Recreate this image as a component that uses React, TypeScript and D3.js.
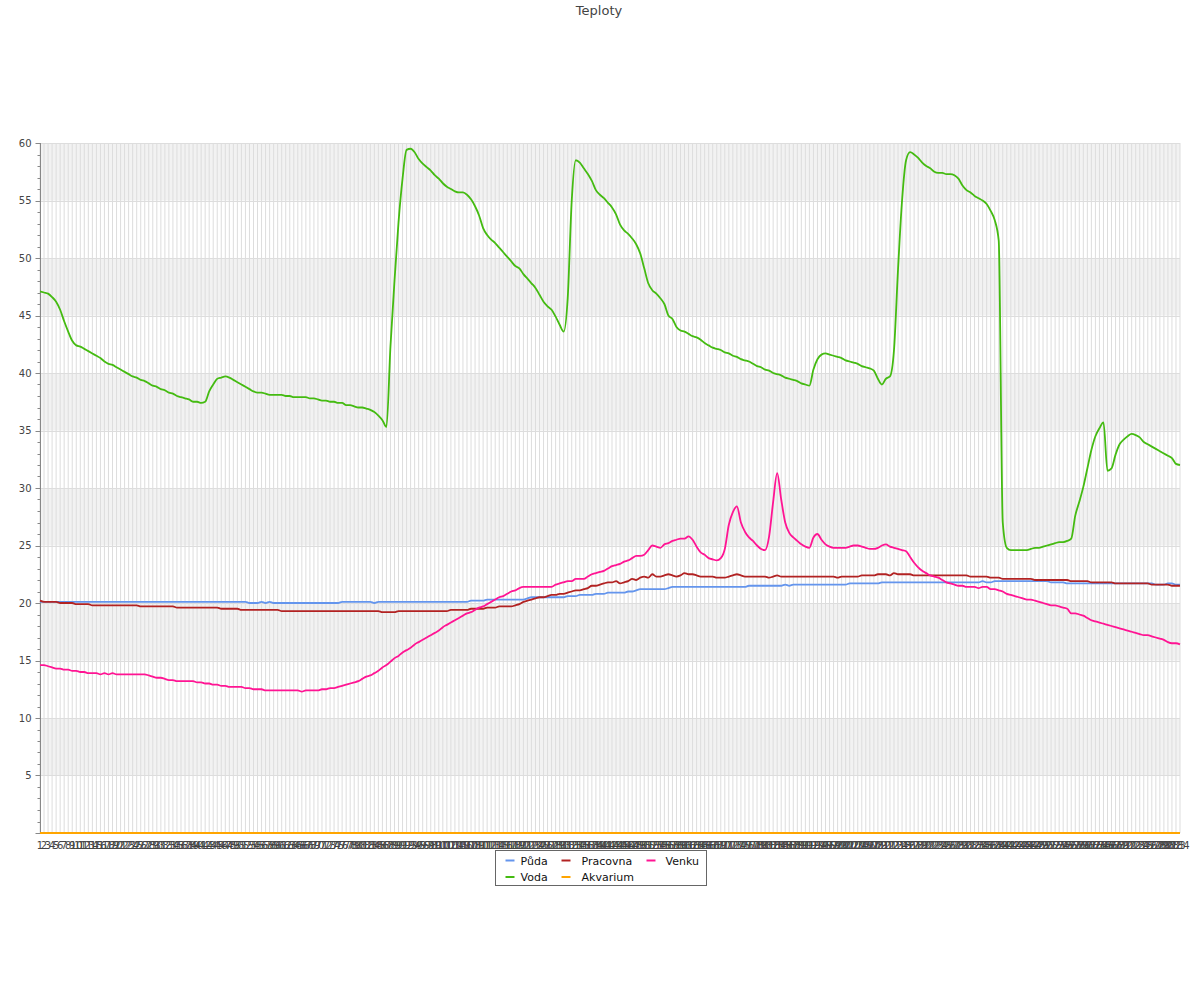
import React, { useRef, useEffect } from "react";
import * as d3 from "d3";

// kategorie 1..284 (měření)
const categories: string[] = d3.range(1, 285).map(String);

const puda: number[] = [
  20.1, 20.1, 20.1, 20.1, 20.1, 20.1, 20.1, 20.1, 20.1, 20.1,
  20.1, 20.1, 20.1, 20.1, 20.1, 20.1, 20.1, 20.1, 20.1, 20.1,
  20.1, 20.1, 20.1, 20.1, 20.1, 20.1, 20.1, 20.1, 20.1, 20.1,
  20.1, 20.1, 20.1, 20.1, 20.1, 20.1, 20.1, 20.1, 20.1, 20.1,
  20.1, 20.1, 20.1, 20.1, 20.1, 20.1, 20.1, 20.1, 20.1, 20.1,
  20.1, 20.1, 20.0, 20.0, 20.0, 20.1, 20.0, 20.1, 20.0, 20.0,
  20.0, 20.0, 20.0, 20.0, 20.0, 20.0, 20.0, 20.0, 20.0, 20.0,
  20.0, 20.0, 20.0, 20.0, 20.0, 20.1, 20.1, 20.1, 20.1, 20.1,
  20.1, 20.1, 20.1, 20.0, 20.1, 20.1, 20.1, 20.1, 20.1, 20.1,
  20.1, 20.1, 20.1, 20.1, 20.1, 20.1, 20.1, 20.1, 20.1, 20.1,
  20.1, 20.1, 20.1, 20.1, 20.1, 20.1, 20.1, 20.2, 20.2, 20.2,
  20.2, 20.3, 20.3, 20.3, 20.3, 20.3, 20.3, 20.3, 20.3, 20.3,
  20.3, 20.4, 20.5, 20.5, 20.5, 20.5, 20.5, 20.5, 20.5, 20.5,
  20.5, 20.6, 20.6, 20.6, 20.7, 20.7, 20.7, 20.7, 20.8, 20.8,
  20.8, 20.9, 20.9, 20.9, 20.9, 20.9, 21.0, 21.0, 21.1, 21.2,
  21.2, 21.2, 21.2, 21.2, 21.2, 21.2, 21.3, 21.4, 21.4, 21.4,
  21.4, 21.4, 21.4, 21.4, 21.4, 21.4, 21.4, 21.4, 21.4, 21.4,
  21.4, 21.4, 21.4, 21.4, 21.4, 21.4, 21.5, 21.5, 21.5, 21.5,
  21.5, 21.5, 21.5, 21.5, 21.5, 21.6, 21.5, 21.6, 21.6, 21.6,
  21.6, 21.6, 21.6, 21.6, 21.6, 21.6, 21.6, 21.6, 21.6, 21.6,
  21.6, 21.7, 21.7, 21.7, 21.7, 21.7, 21.7, 21.7, 21.7, 21.8,
  21.8, 21.8, 21.8, 21.8, 21.8, 21.8, 21.8, 21.8, 21.8, 21.8,
  21.8, 21.8, 21.8, 21.8, 21.8, 21.8, 21.8, 21.8, 21.8, 21.8,
  21.8, 21.8, 21.8, 21.8, 21.9, 21.8, 21.8, 21.9, 21.9, 21.9,
  21.9, 21.9, 21.9, 21.9, 21.9, 21.9, 21.9, 21.9, 21.9, 21.9,
  21.9, 21.8, 21.8, 21.8, 21.8, 21.7, 21.7, 21.7, 21.7, 21.7,
  21.7, 21.7, 21.7, 21.7, 21.7, 21.7, 21.7, 21.7, 21.7, 21.7,
  21.7, 21.7, 21.7, 21.7, 21.7, 21.7, 21.7, 21.6, 21.6, 21.6,
  21.7, 21.7, 21.6, 21.6,
];

const voda: number[] = [
  47.1, 47.0, 46.9, 46.6, 46.2, 45.5, 44.5, 43.6, 42.8, 42.4,
  42.3, 42.1, 41.9, 41.7, 41.5, 41.3, 41.0, 40.8, 40.7, 40.5,
  40.3, 40.1, 39.9, 39.7, 39.6, 39.4, 39.3, 39.1, 38.9, 38.8,
  38.6, 38.5, 38.3, 38.2, 38.0, 37.9, 37.8, 37.7, 37.5, 37.5,
  37.4, 37.5, 38.4, 39.0, 39.5, 39.6, 39.7, 39.6, 39.4, 39.2,
  39.0, 38.8, 38.6, 38.4, 38.3, 38.3, 38.2, 38.1, 38.1, 38.1,
  38.1, 38.0, 38.0, 37.9, 37.9, 37.9, 37.9, 37.8, 37.8, 37.7,
  37.6, 37.6, 37.5, 37.5, 37.4, 37.4, 37.2, 37.2, 37.1, 37.0,
  37.0, 36.9, 36.8, 36.6, 36.3, 35.9, 35.3, 42.3, 48.0, 53.1,
  56.9, 59.4, 59.5, 59.2, 58.6, 58.2, 57.9, 57.6, 57.2, 56.9,
  56.5, 56.2, 56.0, 55.8, 55.7, 55.7, 55.5, 55.1, 54.5, 53.7,
  52.6, 52.0, 51.6, 51.3, 50.9, 50.5, 50.1, 49.7, 49.3, 49.1,
  48.6, 48.2, 47.8, 47.4, 46.8, 46.2, 45.8, 45.5, 44.9, 44.2,
  43.6, 46.5, 55.0, 58.5, 58.3, 57.8, 57.3, 56.7, 55.9, 55.5,
  55.2, 54.8, 54.4, 53.8, 52.9, 52.4, 52.1, 51.7, 51.2, 50.4,
  49.1, 47.8, 47.2, 46.9, 46.5, 46.0, 45.0, 44.7, 44.0, 43.7,
  43.6, 43.4, 43.2, 43.1, 42.9, 42.6, 42.4, 42.2, 42.1, 42.0,
  41.8, 41.7, 41.5, 41.4, 41.2, 41.1, 41.0, 40.8, 40.6, 40.5,
  40.3, 40.2, 40.0, 39.9, 39.8, 39.6, 39.5, 39.4, 39.3, 39.1,
  39.0, 38.9, 40.3, 41.2, 41.6, 41.7, 41.6, 41.5, 41.4, 41.3,
  41.1, 41.0, 40.9, 40.8, 40.6, 40.5, 40.4, 40.2, 39.5, 39.0,
  39.5, 39.7, 42.0, 49.0, 55.0, 58.5, 59.2, 59.0, 58.7, 58.3,
  58.0, 57.8, 57.5, 57.4, 57.4, 57.3, 57.3, 57.2, 56.9, 56.3,
  55.9, 55.7, 55.4, 55.2, 55.0, 54.7, 54.1, 53.3, 51.5, 27.0,
  24.8, 24.6, 24.6, 24.6, 24.6, 24.6, 24.7, 24.8, 24.8, 24.9,
  25.0, 25.1, 25.2, 25.3, 25.3, 25.4, 25.6, 27.6, 28.8, 30.1,
  31.7, 33.3, 34.5, 35.2, 35.7, 31.5, 31.7, 32.9, 33.8, 34.2,
  34.5, 34.7, 34.6, 34.4, 34.0, 33.8, 33.6, 33.4, 33.2, 33.0,
  32.8, 32.6, 32.1, 32.0,
];

const pracovna: number[] = [
  20.2, 20.1, 20.1, 20.1, 20.1, 20.0, 20.0, 20.0, 20.0, 19.9,
  19.9, 19.9, 19.9, 19.8, 19.8, 19.8, 19.8, 19.8, 19.8, 19.8,
  19.8, 19.8, 19.8, 19.8, 19.8, 19.7, 19.7, 19.7, 19.7, 19.7,
  19.7, 19.7, 19.7, 19.7, 19.6, 19.6, 19.6, 19.6, 19.6, 19.6,
  19.6, 19.6, 19.6, 19.6, 19.6, 19.5, 19.5, 19.5, 19.5, 19.5,
  19.4, 19.4, 19.4, 19.4, 19.4, 19.4, 19.4, 19.4, 19.4, 19.4,
  19.3, 19.3, 19.3, 19.3, 19.3, 19.3, 19.3, 19.3, 19.3, 19.3,
  19.3, 19.3, 19.3, 19.3, 19.3, 19.3, 19.3, 19.3, 19.3, 19.3,
  19.3, 19.3, 19.3, 19.3, 19.3, 19.2, 19.2, 19.2, 19.2, 19.3,
  19.3, 19.3, 19.3, 19.3, 19.3, 19.3, 19.3, 19.3, 19.3, 19.3,
  19.3, 19.3, 19.4, 19.4, 19.4, 19.4, 19.4, 19.5, 19.5, 19.5,
  19.5, 19.6, 19.6, 19.6, 19.7, 19.7, 19.7, 19.7, 19.8, 19.9,
  20.1, 20.2, 20.3, 20.4, 20.5, 20.5, 20.6, 20.7, 20.7, 20.8,
  20.8, 20.9, 21.0, 21.1, 21.1, 21.2, 21.3, 21.5, 21.5, 21.6,
  21.7, 21.8, 21.8, 21.9, 21.7, 21.8, 21.9, 22.1, 22.0, 22.2,
  22.3, 22.2, 22.5, 22.3, 22.3, 22.4, 22.5, 22.4, 22.3, 22.4,
  22.6, 22.5, 22.5, 22.4, 22.3, 22.3, 22.3, 22.3, 22.2, 22.2,
  22.2, 22.3, 22.4, 22.5, 22.4, 22.3, 22.3, 22.3, 22.3, 22.3,
  22.3, 22.2, 22.3, 22.4, 22.3, 22.3, 22.3, 22.3, 22.3, 22.3,
  22.3, 22.3, 22.3, 22.3, 22.3, 22.3, 22.3, 22.3, 22.2, 22.3,
  22.3, 22.3, 22.3, 22.3, 22.4, 22.4, 22.4, 22.4, 22.5, 22.5,
  22.5, 22.4, 22.6, 22.5, 22.5, 22.5, 22.5, 22.4, 22.4, 22.4,
  22.4, 22.4, 22.4, 22.4, 22.4, 22.4, 22.4, 22.4, 22.4, 22.4,
  22.4, 22.3, 22.3, 22.3, 22.3, 22.3, 22.2, 22.2, 22.2, 22.1,
  22.1, 22.1, 22.1, 22.1, 22.1, 22.1, 22.1, 22.0, 22.0, 22.0,
  22.0, 22.0, 22.0, 22.0, 22.0, 22.0, 21.9, 21.9, 21.9, 21.9,
  21.9, 21.8, 21.8, 21.8, 21.8, 21.8, 21.8, 21.7, 21.7, 21.7,
  21.7, 21.7, 21.7, 21.7, 21.7, 21.7, 21.6, 21.6, 21.6, 21.6,
  21.6, 21.5, 21.5, 21.5,
];

const akvarium: number[] = [
  0, 0, 0, 0, 0, 0, 0, 0, 0, 0, 0, 0, 0, 0, 0, 0, 0, 0, 0, 0,
  0, 0, 0, 0, 0, 0, 0, 0, 0, 0, 0, 0, 0, 0, 0, 0, 0, 0, 0, 0,
  0, 0, 0, 0, 0, 0, 0, 0, 0, 0, 0, 0, 0, 0, 0, 0, 0, 0, 0, 0,
  0, 0, 0, 0, 0, 0, 0, 0, 0, 0, 0, 0, 0, 0, 0, 0, 0, 0, 0, 0,
  0, 0, 0, 0, 0, 0, 0, 0, 0, 0, 0, 0, 0, 0, 0, 0, 0, 0, 0, 0,
  0, 0, 0, 0, 0, 0, 0, 0, 0, 0, 0, 0, 0, 0, 0, 0, 0, 0, 0, 0,
  0, 0, 0, 0, 0, 0, 0, 0, 0, 0, 0, 0, 0, 0, 0, 0, 0, 0, 0, 0,
  0, 0, 0, 0, 0, 0, 0, 0, 0, 0, 0, 0, 0, 0, 0, 0, 0, 0, 0, 0,
  0, 0, 0, 0, 0, 0, 0, 0, 0, 0, 0, 0, 0, 0, 0, 0, 0, 0, 0, 0,
  0, 0, 0, 0, 0, 0, 0, 0, 0, 0, 0, 0, 0, 0, 0, 0, 0, 0, 0, 0,
  0, 0, 0, 0, 0, 0, 0, 0, 0, 0, 0, 0, 0, 0, 0, 0, 0, 0, 0, 0,
  0, 0, 0, 0, 0, 0, 0, 0, 0, 0, 0, 0, 0, 0, 0, 0, 0, 0, 0, 0,
  0, 0, 0, 0, 0, 0, 0, 0, 0, 0, 0, 0, 0, 0, 0, 0, 0, 0, 0, 0,
  0, 0, 0, 0, 0, 0, 0, 0, 0, 0, 0, 0, 0, 0, 0, 0, 0, 0, 0, 0,
  0, 0, 0, 0,
];

const venku: number[] = [
  14.6, 14.6, 14.5, 14.4, 14.3, 14.3, 14.2, 14.2, 14.1, 14.1,
  14.0, 14.0, 13.9, 13.9, 13.9, 13.8, 13.9, 13.8, 13.9, 13.8,
  13.8, 13.8, 13.8, 13.8, 13.8, 13.8, 13.8, 13.7, 13.6, 13.5,
  13.5, 13.4, 13.3, 13.3, 13.2, 13.2, 13.2, 13.2, 13.2, 13.1,
  13.1, 13.0, 13.0, 12.9, 12.9, 12.8, 12.8, 12.7, 12.7, 12.7,
  12.7, 12.6, 12.6, 12.5, 12.5, 12.5, 12.4, 12.4, 12.4, 12.4,
  12.4, 12.4, 12.4, 12.4, 12.4, 12.3, 12.4, 12.4, 12.4, 12.4,
  12.5, 12.5, 12.6, 12.6, 12.7, 12.8, 12.9, 13.0, 13.1, 13.2,
  13.4, 13.6, 13.7, 13.9, 14.1, 14.4, 14.6, 14.9, 15.2, 15.4,
  15.7, 15.9, 16.1, 16.4, 16.6, 16.8, 17.0, 17.2, 17.4, 17.6,
  17.9, 18.1, 18.3, 18.5, 18.7, 18.9, 19.1, 19.2, 19.4, 19.6,
  19.7, 19.9, 20.1, 20.3, 20.5, 20.6, 20.8, 21.0, 21.1, 21.3,
  21.4, 21.4, 21.4, 21.4, 21.4, 21.4, 21.4, 21.4, 21.6, 21.7,
  21.8, 21.9, 21.9, 22.1, 22.1, 22.1, 22.3, 22.5, 22.6, 22.7,
  22.8, 23.0, 23.2, 23.3, 23.4, 23.6, 23.7, 23.9, 24.1, 24.1,
  24.2, 24.6, 25.0, 24.9, 24.8, 25.1, 25.2, 25.4, 25.5, 25.6,
  25.6, 25.8, 25.5, 24.9, 24.4, 24.2, 23.9, 23.8, 23.7, 23.9,
  24.7, 26.8, 27.9, 28.4, 27.0, 26.2, 25.7, 25.4, 25.0, 24.7,
  24.6, 25.8, 28.8, 31.3, 29.0, 27.0, 26.1, 25.7, 25.4, 25.1,
  24.9, 24.8, 25.7, 26.0, 25.5, 25.1, 24.9, 24.8, 24.8, 24.8,
  24.8, 24.9, 25.0, 25.0, 24.9, 24.8, 24.7, 24.7, 24.8, 25.0,
  25.1, 24.9, 24.8, 24.7, 24.6, 24.5, 24.0, 23.5, 23.1, 22.8,
  22.6, 22.4, 22.3, 22.2, 22.0, 21.8, 21.7, 21.6, 21.5, 21.5,
  21.4, 21.4, 21.4, 21.3, 21.4, 21.4, 21.2, 21.2, 21.1, 21.0,
  20.8, 20.7, 20.6, 20.5, 20.4, 20.3, 20.3, 20.2, 20.1, 20.0,
  19.9, 19.8, 19.8, 19.7, 19.6, 19.5, 19.1, 19.1, 19.0, 18.9,
  18.7, 18.5, 18.4, 18.3, 18.2, 18.1, 18.0, 17.9, 17.8, 17.7,
  17.6, 17.5, 17.4, 17.3, 17.2, 17.2, 17.1, 17.0, 16.9, 16.8,
  16.6, 16.5, 16.5, 16.4,
];

const seriesNames = ["Půda", "Voda", "Pracovna", "Akvarium", "Venku"];
const seriesColors = ["#6495ed", "#44bb11", "#b22222", "#ffa500", "#ff1493"];
const seriesData = [puda, voda, pracovna, akvarium, venku];
// pořadí v legendě (3 sloupce)
const legendOrder = ["Půda", "Pracovna", "Venku", "Voda", "Akvarium"];

const W = 1200;
const H = 1000;
const FONT = "DejaVu Sans, sans-serif";

const App: React.FC = () => {
  const ref = useRef<SVGSVGElement | null>(null);

  useEffect(() => {
    if (!ref.current) return;
    const svg = d3.select(ref.current);
    svg.selectAll("*").remove();

    const margin = { top: 143, right: 20, bottom: 167, left: 40 };

    const x = d3
      .scalePoint<string>()
      .domain(categories)
      .range([margin.left, W - margin.right]);

    const y = d3
      .scaleLinear()
      .domain([0, 60])
      .range([H - margin.bottom, margin.top]);

    svg.append("rect").attr("width", W).attr("height", H).attr("fill", "#fff");

    // title
    svg
      .append("text")
      .attr("x", 599)
      .attr("y", 15)
      .attr("text-anchor", "middle")
      .attr("font-family", FONT)
      .attr("font-size", 13)
      .attr("fill", "#444")
      .text("Teploty");

    // shaded bands
    const bands = [5, 15, 25, 35, 45, 55];
    svg
      .append("g")
      .selectAll("rect")
      .data(bands)
      .enter()
      .append("rect")
      .attr("x", margin.left)
      .attr("y", d => y(d + 5))
      .attr("width", W - margin.right - margin.left)
      .attr("height", d => y(d) - y(d + 5))
      .attr("fill", "#f2f2f2");

    // vertical grid
    svg
      .append("g")
      .selectAll("line")
      .data(categories)
      .enter()
      .append("line")
      .attr("x1", d => x(d)!)
      .attr("x2", d => x(d)!)
      .attr("y1", y(60))
      .attr("y2", y(0))
      .attr("stroke", "#dddddd")
      .attr("stroke-width", 1);

    // horizontal grid
    svg
      .append("g")
      .selectAll("line")
      .data(d3.range(5, 61, 5))
      .enter()
      .append("line")
      .attr("x1", margin.left)
      .attr("x2", W - margin.right)
      .attr("y1", d => Math.round(y(d)) + 0.5)
      .attr("y2", d => Math.round(y(d)) + 0.5)
      .attr("stroke", "#dddddd");

    // y axis
    const yAxis = svg.append("g").attr("transform", `translate(${margin.left + 0.5},0)`);
    yAxis
      .append("line")
      .attr("y1", y(60))
      .attr("y2", y(0))
      .attr("stroke", "#888");
    yAxis
      .selectAll("line.minor")
      .data(d3.range(0, 61, 1))
      .enter()
      .append("line")
      .attr("class", "minor")
      .attr("x1", d => (d % 5 === 0 ? -5 : -3))
      .attr("x2", 0)
      .attr("y1", d => Math.round(y(d)) + 0.5)
      .attr("y2", d => Math.round(y(d)) + 0.5)
      .attr("stroke", "#888");
    yAxis
      .selectAll("text")
      .data(d3.range(5, 61, 5))
      .enter()
      .append("text")
      .attr("x", -9)
      .attr("y", d => y(d) + 3.5)
      .attr("text-anchor", "end")
      .attr("font-family", FONT)
      .attr("font-size", 10)
      .attr("fill", "#444")
      .text(d => d);

    // x axis
    const xAxis = svg.append("g");
    xAxis
      .append("line")
      .attr("x1", margin.left)
      .attr("x2", W - margin.right)
      .attr("y1", y(0) + 0.5)
      .attr("y2", y(0) + 0.5)
      .attr("stroke", "#888");
    xAxis
      .selectAll("text")
      .data(categories)
      .enter()
      .append("text")
      .attr("x", d => x(d)!)
      .attr("y", y(0) + 16)
      .attr("text-anchor", "middle")
      .attr("font-family", FONT)
      .attr("font-size", 10)
      .attr("fill", "#444")
      .text(d => d);

    // lines
    const line = d3
      .line<number>()
      .x((_, i) => x(categories[i])!)
      .y(d => y(d))
      .curve(d3.curveMonotoneX);

    seriesData.forEach((data, k) => {
      svg
        .append("path")
        .datum(data)
        .attr("fill", "none")
        .attr("stroke", seriesColors[k])
        .attr("stroke-width", 1.8)
        .attr("d", line as any);
    });

    // legend
    const lg = svg.append("g").attr("transform", "translate(495.5,850.5)");
    lg.append("rect")
      .attr("width", 211)
      .attr("height", 35)
      .attr("fill", "#fff")
      .attr("stroke", "#666");
    const symX = [10, 66, 151];
    const textX = [25, 86, 170];
    legendOrder.forEach((name, j) => {
      const k = seriesNames.indexOf(name);
      const col = j % 3;
      const cy = 10 + Math.floor(j / 3) * 16.5;
      lg.append("line")
        .attr("x1", symX[col])
        .attr("x2", symX[col] + 9)
        .attr("y1", cy)
        .attr("y2", cy)
        .attr("stroke", seriesColors[k])
        .attr("stroke-width", 2);
      lg.append("text")
        .attr("x", textX[col])
        .attr("y", cy + 4)
        .attr("font-family", FONT)
        .attr("font-size", 11)
        .attr("fill", "#111")
        .text(name);
    });
  }, []);

  return (
    <svg
      ref={ref}
      width={W}
      height={H}
      style={{ position: "absolute", left: 0, top: 0 }}
    />
  );
};

export default App;
